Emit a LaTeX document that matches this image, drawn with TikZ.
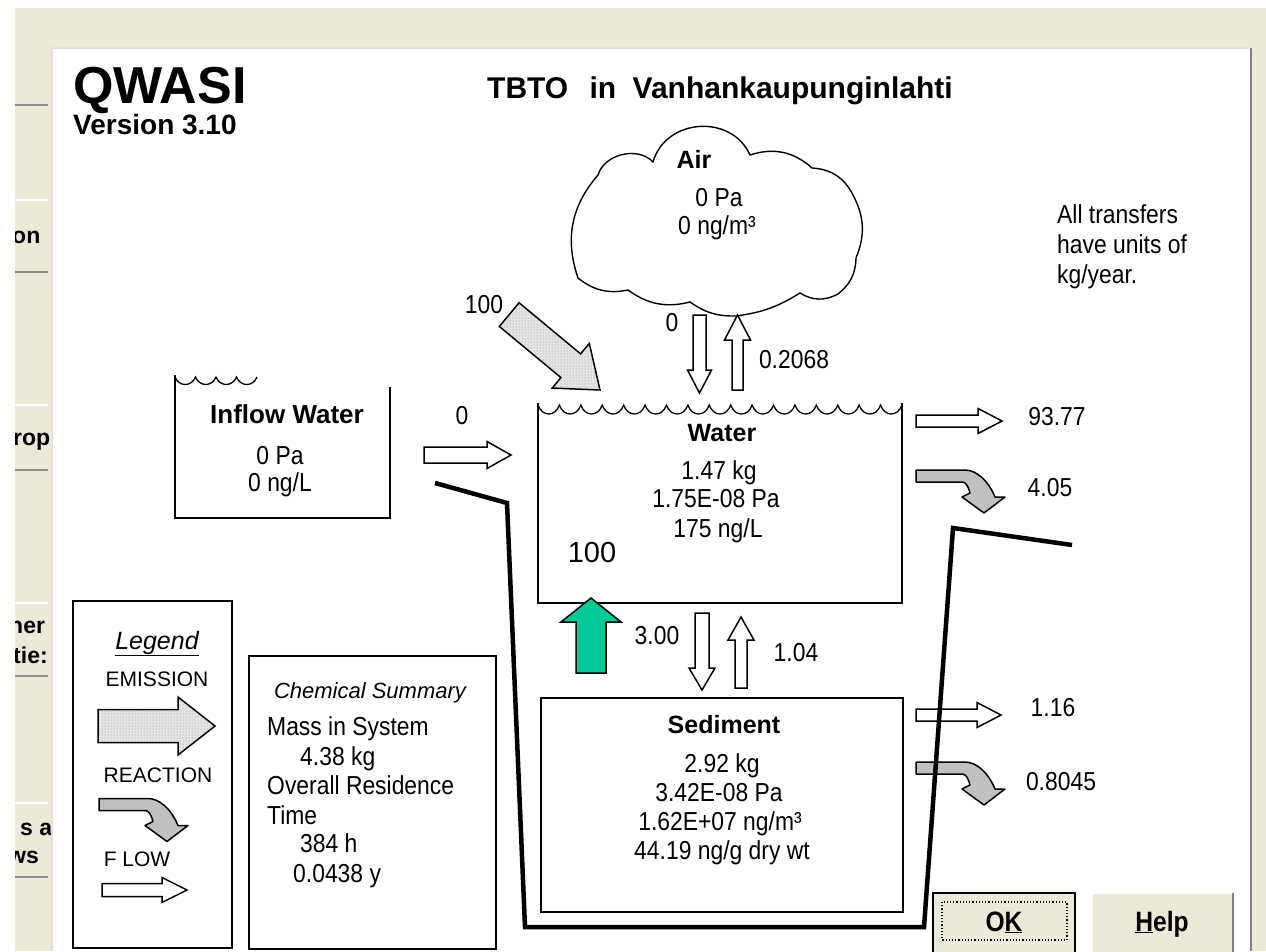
\documentclass[tikz,border=0pt]{standalone}
\usepackage{fontspec}
\setmainfont{Liberation Sans}
\newfontfamily\labf[FakeStretch=0.88]{Liberation Sans}
\usetikzlibrary{patterns}
\definecolor{xpbeige}{RGB}{236,233,216}
\definecolor{emgreen}{RGB}{0,200,150}
\definecolor{rxgray}{RGB}{192,192,192}
\newcommand\fsz[1]{\fontsize{#1}{#1}\selectfont}
\newcommand\blockarrow[4]{(-#1,-#3) -- (-#2,-#3) -- (-#2,-#4) -- (0,0) -- (-#2,#4) -- (-#2,#3) -- (-#1,#3) -- cycle}
\newcommand\reactarrow{(0,-6) -- (49,-6) .. controls (60,-6) and (72,4) .. (79,21) -- (89,21) -- (68,37) -- (46,21) -- (54,17) .. controls (52,10) and (50,6) .. (46,6) -- (0,6) -- cycle}
\begin{document}
\begin{tikzpicture}[x=1pt,y=-1pt,
  lab/.style={font=\labf\fsz{26}, inner sep=0pt, text height=18.6pt, text depth=0pt},
  ttl/.style={font=\bfseries\fsz{25}, inner sep=0pt, text height=17.9pt, text depth=0pt},
  tab/.style={font=\bfseries\fsz{23}, inner sep=0pt, anchor=base west},
  leg/.style={font=\fsz{21}, inner sep=0pt, text height=15pt, text depth=0pt},
  boxline/.style={line width=1.6pt, line join=miter},
  flowa/.style={draw=black, fill=white, line width=1.5pt, line join=miter},
  emia/.style={draw=black, line width=1.5pt, line join=miter, fill=black!10, postaction={pattern=dots, pattern color=black!45}},
  reacta/.style={draw=black, fill=rxgray, line width=1.5pt, line join=round},
  greena/.style={draw=black, fill=emgreen, line width=1.5pt, line join=miter},
  bayline/.style={line width=4.5pt, line join=miter},
]
\useasboundingbox (0,0) rectangle (1266,951);
% window background
\fill[white] (0,0) rectangle (1266,951);
\fill[xpbeige] (15,8) rectangle (1266,951);
\fill[white] (52,48) rectangle (1250,951);
\draw[black!12, line width=2pt] (52,951) -- (52,48) -- (1249,48);
\draw[black!50, line width=2.5pt] (1251,48) -- (1251,951);
% left tabs
\foreach \yy in {105,272,470,676,877} \draw[black!45, line width=2pt] (15,\yy) -- (48,\yy);
\foreach \yy in {200,405,603,803} \draw[white, line width=2pt] (15,\yy) -- (48,\yy);
\begin{scope}
\clip (15,0) rectangle (50,951);
\node[tab] (t1) at (12,243) {on};
\node[tab] (t2) at (13,445) {rop};
\node[tab] (t3) at (9,633) {her};
\node[tab] (t4) at (13,663) {tie:};
\node[tab] (t5) at (20,835) {s a};
\node[tab] (t6) at (8,863) {ws};
\end{scope}
% titles
\node[font=\bfseries\fsz{52}, anchor=base west, inner sep=0pt, text depth=0pt] (qwasi) at (73,103) {QWASI};
\node[font=\bfseries\fsz{28}, anchor=base west, inner sep=0pt] (ver) at (73,134) {Version 3.10};
\node[font=\bfseries\fsz{30}, anchor=base west, inner sep=0pt] (title) at (487,98) {TBTO\hspace{13pt} in\hspace{8pt} Vanhankaupunginlahti};
% cloud
\draw[line width=1.4pt, line join=round] (578,278) to[bend left=30] (598,175) to[bend left=60] (653,162)
  to[bend left=70, looseness=1.2] (750,155) to[bend left=30] (812,168) to[bend left=30] (853,195)
  to[bend left=25] (856,258) to[bend left=25] (838,294) to[bend left=30] (800,293)
  to[bend left=12] (736,316) to[bend left=18] (690,302) to[bend left=25] (628,290) to[bend left=25] (578,278) -- cycle;
\node[ttl] (airT) at (694,160) {Air};
\node[lab] (airP) at (719,197) {0 Pa};
\node[lab] (airC) at (717,225) {0 ng/m³};
% units note
\node[lab, anchor=west] (u1) at (1057,214) {All transfers};
\node[lab, anchor=west] (u2) at (1057,244) {have units of};
\node[lab, anchor=west] (u3) at (1057,274) {kg/year.};
% emission into water
\draw[emia, shift={(600,390)}, rotate=-39.7] \blockarrow{118}{38}{15.4}{29};
\node[lab] (e100) at (484,304) {100};
% air-water exchange
\draw[flowa, shift={(699.5,393)}, rotate=-90] \blockarrow{78}{23}{6.5}{12};
\draw[flowa, shift={(737.5,315)}, rotate=90] \blockarrow{75}{25}{5.5}{13};
\node[lab] (aw0) at (672,322) {0};
\node[lab] (wa) at (794,359) {0.2068};
% inflow water box
\draw[boxline] (175,375) -- (175,518) -- (390,518) -- (390,387);
\draw[line width=1.3pt] (175,377) \foreach \i in {1,...,4}{ .. controls +(4,10) and +(-4,10) .. ++(20.5,0)};
\node[ttl, font=\bfseries\fsz{26}] (inT) at (287,415) {Inflow Water};
\node[lab] (inP) at (280,455) {0 Pa};
\node[lab] (inC) at (280,482) {0 ng/L};
\draw[flowa, shift={(511,455)}] \blockarrow{87}{24}{8}{13.5};
\node[lab] (in0) at (462,415) {0};
% water box
\draw[boxline] (538,403) -- (538,603) -- (902,603) -- (902,403);
\draw[line width=1.3pt] (538,405) \foreach \i in {1,...,17}{ .. controls +(4,12) and +(-4,12) .. ++(21.41,0)};
\node[ttl] (wT) at (722,433) {Water};
\node[lab] (w1) at (719,470) {1.47 kg};
\node[lab] (w2) at (716,498) {1.75E-08 Pa};
\node[lab] (w3) at (718,528) {175 ng/L};
\node[font=\fsz{29}, inner sep=0pt, text height=20.8pt, text depth=0pt] (w100) at (592,552) {100};
% water outputs
\draw[flowa, shift={(1002,421)}] \blockarrow{86}{24}{6}{12.5};
\node[lab] (o1) at (1057,416) {93.77};
\draw[reacta, shift={(916,476)}] \reactarrow;
\node[lab] (r1) at (1050,487) {4.05};
% water-sediment exchange
\draw[greena, shift={(591,598)}, rotate=90] \blockarrow{75}{24}{15}{30};
\draw[flowa, shift={(702,690)}, rotate=-90] \blockarrow{77}{22}{7}{13};
\draw[flowa, shift={(741,617)}, rotate=90] \blockarrow{71}{23}{6}{13};
\node[lab] (s300) at (657,635) {3.00};
\node[lab] (s104) at (796,652) {1.04};
% sediment box
\draw[boxline] (541,698) rectangle (903,912);
\node[ttl] (sT) at (724,725) {Sediment};
\node[lab] (s1) at (722,763) {2.92 kg};
\node[lab] (s2) at (719,792) {3.42E-08 Pa};
\node[lab] (s3) at (720,821) {1.62E+07 ng/m³};
\node[lab] (s4) at (722,850) {44.19 ng/g dry wt};
% sediment outputs
\draw[flowa, shift={(1001,715)}] \blockarrow{85}{24}{6}{12.5};
\node[lab] (o2) at (1053,707) {1.16};
\draw[reacta, shift={(916,768)}] \reactarrow;
\node[lab] (r2) at (1061,781) {0.8045};
% bay outline
\draw[bayline] (435,483) -- (507,503) -- (525,927) -- (924,927) -- (953,528) -- (1072,545);
% legend
\draw[boxline] (73,601) rectangle (232,948);
\node[font=\itshape\fsz{25}, inner sep=0pt, text height=18pt, text depth=0pt] (legT) at (157,640) {\underline{Legend}};
\node[leg] (legE) at (157,679) {EMISSION};
\draw[emia, shift={(215,726)}] \blockarrow{117}{37}{16.5}{29};
\node[leg] (legR) at (158,775) {REACTION};
\draw[reacta, shift={(99,804.5)}] \reactarrow;
\node[leg] (legF) at (137,859) {F LOW};
\draw[flowa, shift={(187,890)}] \blockarrow{85}{25}{6.5}{12.5};
% chemical summary
\draw[boxline] (249,656) rectangle (496,949);
\node[font=\itshape\fsz{22}, inner sep=0pt, text height=16pt, text depth=0pt] (csT) at (370,690) {Chemical Summary};
\node[lab, anchor=west] (cs1) at (267,726) {Mass in System};
\node[lab, anchor=west] (cs2) at (300,756) {4.38 kg};
\node[lab, anchor=west] (cs3) at (267,785) {Overall Residence};
\node[lab, anchor=west] (cs4) at (267,815) {Time};
\node[lab, anchor=west] (cs5) at (300,843) {384 h};
\node[lab, anchor=west] (cs6) at (293,873) {0.0438 y};
% buttons
\draw[fill=xpbeige, draw=black, line width=2pt] (933,893) rectangle (1075,958);
\draw[dotted, line width=1.2pt] (942,902) rectangle (1067,940);
\node[font=\labf\bfseries\fsz{28}, inner sep=0pt, text height=20pt, text depth=0pt] (ok) at (1004,921) {O\underline{K}};
\fill[xpbeige] (1092,893) rectangle (1233,958);
\draw[white, line width=2pt] (1092,958) -- (1092,893) -- (1233,893);
\draw[black!50, line width=2.5pt] (1233,893) -- (1233,958);
\node[font=\labf\bfseries\fsz{28}, inner sep=0pt, text height=20pt, text depth=0pt] (help) at (1162,921) {\underline{H}elp};
\end{tikzpicture}
\end{document}
